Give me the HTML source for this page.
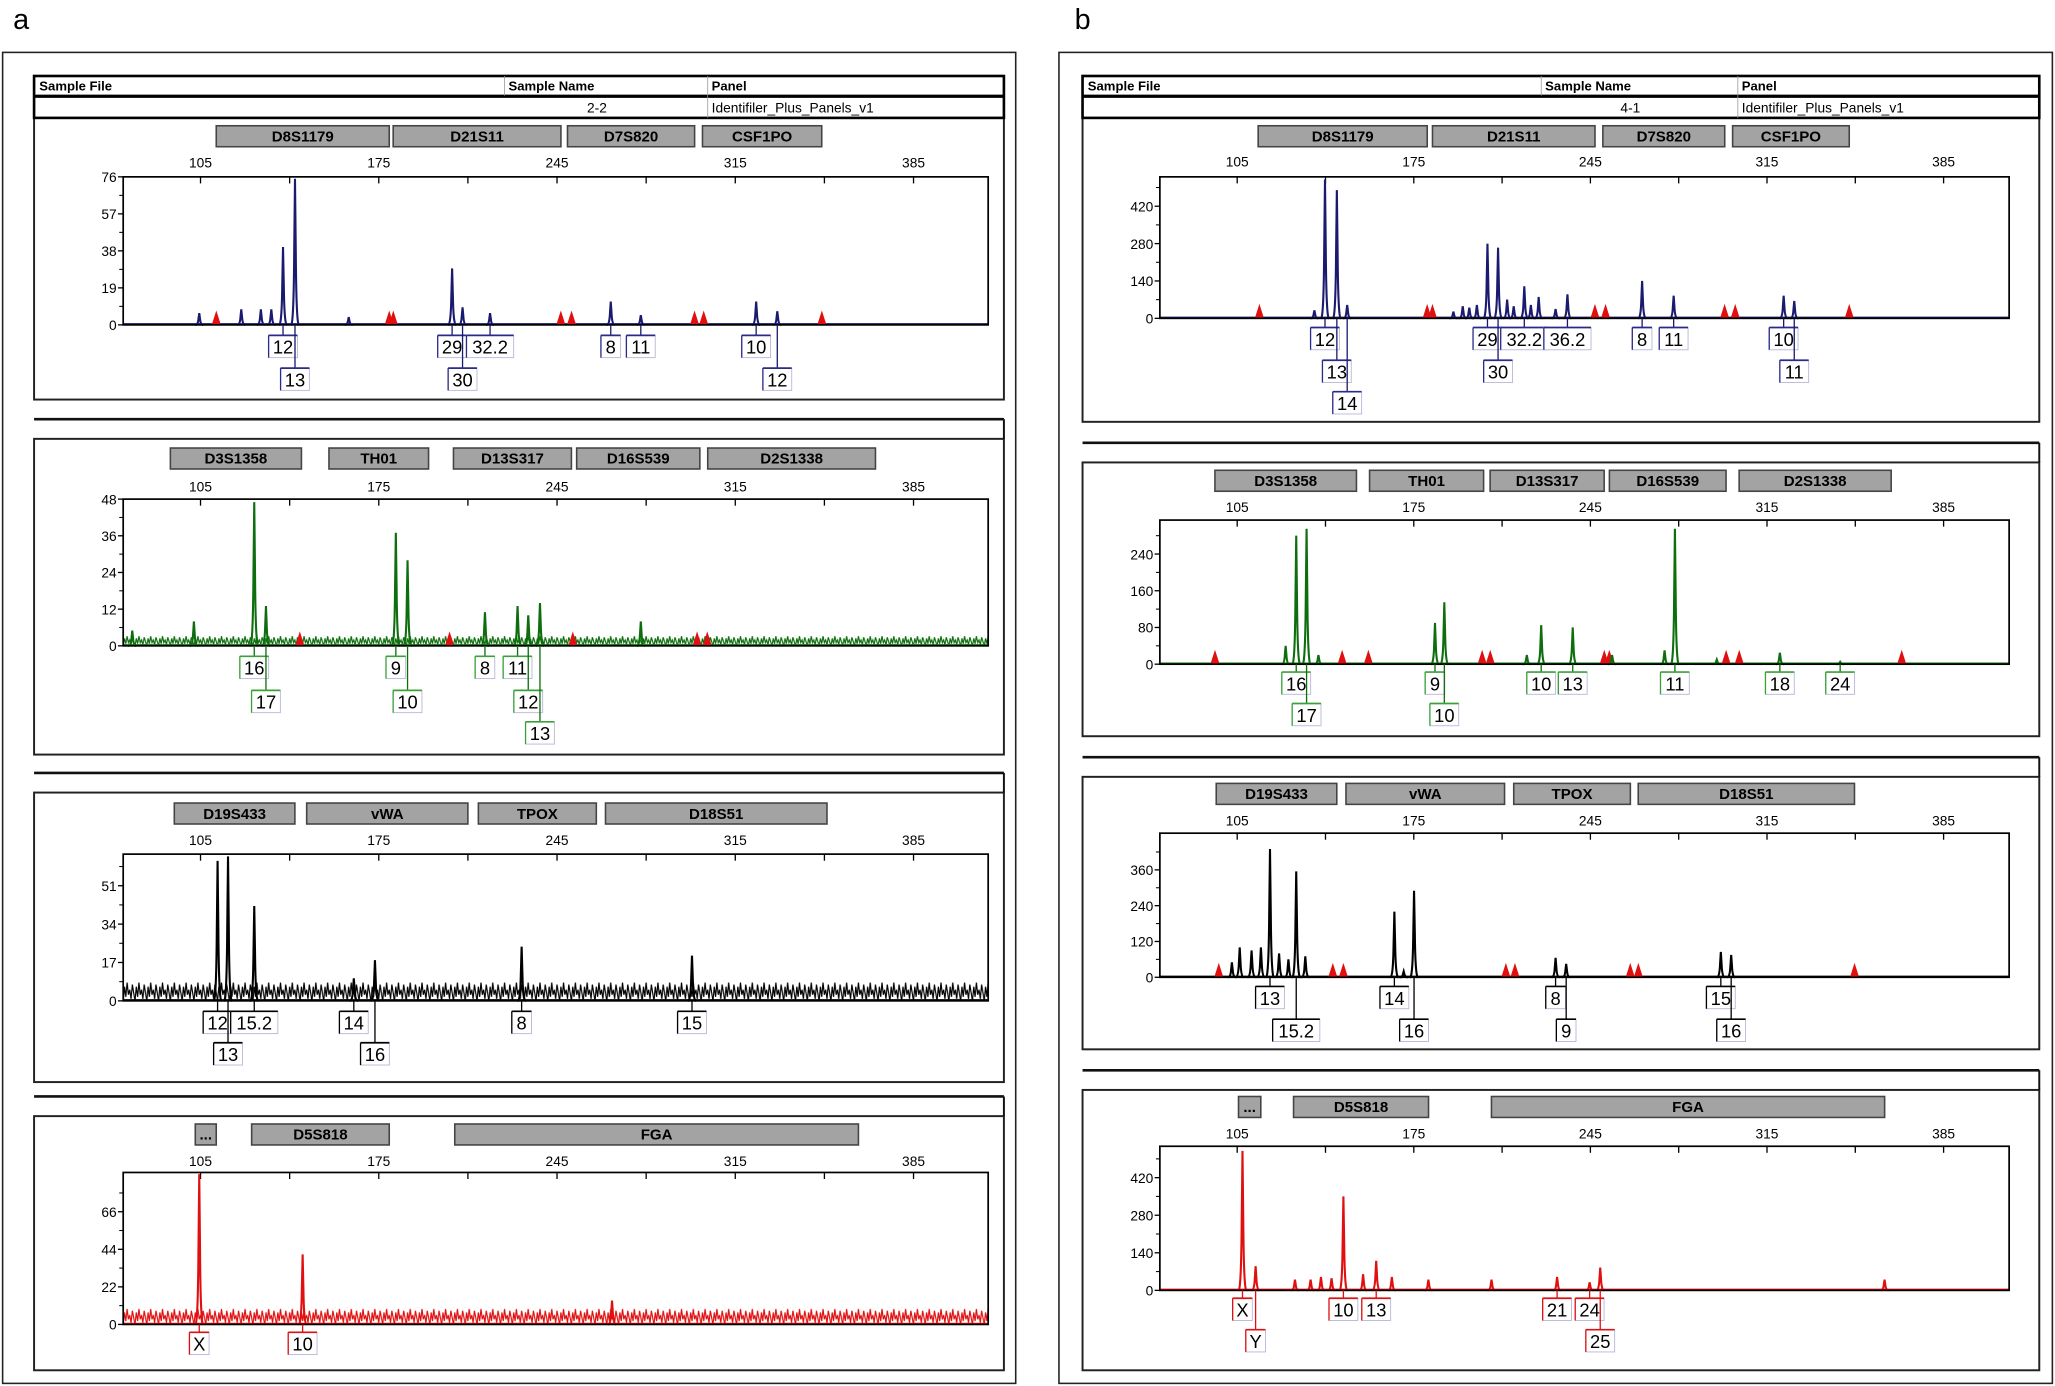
<!DOCTYPE html>
<html><head><meta charset="utf-8"><style>
html,body{margin:0;padding:0;background:#fff;}
svg{display:block;}
text{font-family:"Liberation Sans",sans-serif;}
</style></head><body>
<svg id="fig" width="2055" height="1386" viewBox="0 0 1568 1058" preserveAspectRatio="none" xmlns="http://www.w3.org/2000/svg">
<defs id="defs"></defs>
<text x="10" y="22" font-size="22">a</text>
<text x="820" y="22" font-size="22">b</text>
<rect x="2" y="40" width="773" height="1016" fill="none" stroke="#222" stroke-width="1.2"/>
<rect x="808" y="40" width="758" height="1016" fill="none" stroke="#222" stroke-width="1.2"/>
<g id="g"></g>
</svg>
<script>
// ---------- DATA (sizes in bp, heights in RFU) ----------
const aBlueSizes=[104.5,121,128.7,132.8,137.4,142.1,163.2,203.8,207.9,218.7,266.1,277.9,323.2,331.5];
const aBlueHeights=[6,8,8,8,40,75,4,29,9,6,12,5,12,7];
const aBlueTri=[111.2,179.1,180.7,246.5,250.7,299,302.6,349];
const aBlueLabText=["12","13","29","30","32.2","8","11","10","12"];
const aBlueLabSize=[137.4,142.1,203.8,207.9,218.7,266.1,277.9,323.2,331.5];
const aBlueLabRow=[0,1,0,1,0,0,0,0,1];
const aBlueTicks=[0,19,38,57,76];

const aGreenSizes=[78.2,102.4,126.1,130.7,181.7,186.3,216.7,229.5,233.7,238.3,277.9];
const aGreenHeights=[5,8,47,13,37,28,11,13,10,14,8];
const aGreenTri=[144,202.8,251.2,300,304];
const aGreenLabText=["16","17","9","10","8","11","12","13"];
const aGreenLabSize=[126.1,130.7,181.7,186.3,216.7,229.5,233.7,238.3];
const aGreenLabRow=[0,1,0,1,0,0,1,2];
const aGreenTicks=[0,12,24,36,48];

const aBlackSizes=[111.7,115.8,126.1,165.2,173.5,231.1,298];
const aBlackHeights=[62,64,42,10,18,24,20];
const aBlackTri=[];
const aBlackLabText=["12","13","15.2","14","16","8","15"];
const aBlackLabSize=[111.7,115.8,126.1,165.2,173.5,231.1,298];
const aBlackLabRow=[0,1,0,0,1,0,0];
const aBlackTicks=[0,17,34,51];

const aRedSizes=[104.5,145.1,266.6];
const aRedHeights=[88,41,14];
const aRedTri=[];
const aRedLabText=["X","10"];
const aRedLabSize=[104.5,145.1];
const aRedLabRow=[0,0];
const aRedTicks=[0,22,44,66];

const bBlueSizes=[135.6,139.8,144.5,148.6,190.7,194.4,197,200,204.2,208.4,212,214.6,218.8,221.4,224.5,231.2,235.9,265.5,278,321.6,325.8];
const bBlueHeights=[30,520,480,50,25,45,40,50,280,265,70,45,120,50,80,35,90,140,85,85,65];
const bBlueTri=[113.8,180.3,182.4,246.8,251,298.2,302.4,347.6];
const bBlueLabText=["12","13","14","29","30","32.2","36.2","8","11","10","11"];
const bBlueLabSize=[139.8,144.5,148.6,204.2,208.4,218.8,235.9,265.5,278,321.6,325.8];
const bBlueLabRow=[0,1,2,0,1,0,0,0,0,0,1];
const bBlueTicks=[0,140,280,420];

const bGreenSizes=[124.2,128.4,132.5,137.2,183.4,187.1,219.8,225.5,238,253.6,274.4,278.5,295.1,320.1,344];
const bGreenHeights=[40,280,295,20,90,135,20,85,80,20,30,295,10,25,5];
const bGreenTri=[96.2,146.6,157,202.1,205.3,250.5,252.5,298.8,304,368.4];
const bGreenLabText=["16","17","9","10","10","13","11","18","24"];
const bGreenLabSize=[128.4,132.5,183.4,187.1,225.5,238,278.5,320.1,344];
const bGreenLabRow=[0,1,0,1,0,0,0,0,0];
const bGreenTicks=[0,80,160,240];

const bBlackSizes=[102.9,106,110.7,114.4,118,121.6,125.3,128.4,132,167.3,171,175.1,231.2,235.4,296.7,300.8];
const bBlackHeights=[50,100,90,100,430,80,60,355,70,220,20,290,65,45,85,75];
const bBlackTri=[97.7,142.9,147.1,211.5,215.1,260.8,264,349.7];
const bBlackLabText=["13","15.2","14","16","8","9","15","16"];
const bBlackLabSize=[118,128.4,167.3,175.1,231.2,235.4,296.7,300.8];
const bBlackLabRow=[0,1,0,1,0,1,0,1];
const bBlackTicks=[0,120,240,360];

const bRedSizes=[107.1,112.3,127.9,134.1,138.2,142.4,147.1,154.9,160.1,166.3,180.8,205.8,231.8,244.7,248.9,361.6];
const bRedHeights=[520,90,40,40,50,45,350,60,110,50,40,40,50,30,85,40];
const bRedTri=[];
const bRedLabText=["X","Y","10","13","21","24","25"];
const bRedLabSize=[107.1,112.3,147.1,160.1,231.8,244.7,248.9];
const bRedLabRow=[0,1,0,0,0,0,1];
const bRedTicks=[0,140,280,420];

const sizeTickLabels=[105,175,245,315,385];

// ---------- LAYOUT ----------
const NS="http://www.w3.org/2000/svg";
const G=document.getElementById('g');
const DEFS=document.getElementById('defs');
function mk(tag,attrs,parent,txt){const e=document.createElementNS(NS,tag);for(const k in attrs)e.setAttribute(k,attrs[k]);if(txt!==undefined)e.textContent=txt;(parent||G).appendChild(e);return e;}

const panels=[
 {id:'a-blue',col:'#1a1a6e',lab:'#2a2a8a',px0:94,px1:754,x105:153,ppu:1.943,yT:135,yB:248,max:76,noise:1,
  S:aBlueSizes,H:aBlueHeights,T:aBlueTri,LT:aBlueLabText,LS:aBlueLabSize,LR:aBlueLabRow,TK:aBlueTicks,rows:[266,291],tickY:128,
  box:[26,58,766,305],bar:null,loci:[['D8S1179',165,297],['D21S11',300,428],['D7S820',433,530],['CSF1PO',536,627]],lociY:96},
 {id:'a-green',col:'#0e6e0e',lab:'#3aa03a',px0:94,px1:754,x105:153,ppu:1.943,yT:381,yB:493,max:48,noise:3.5,
  S:aGreenSizes,H:aGreenHeights,T:aGreenTri,LT:aGreenLabText,LS:aGreenLabSize,LR:aGreenLabRow,TK:aGreenTicks,rows:[511,537,561],tickY:375,
  box:[26,335,766,576],bar:[26,320,766,335],loci:[['D3S1358',130,230],['TH01',251,327],['D13S317',346,436],['D16S539',440,534],['D2S1338',540,668]],lociY:342},
 {id:'a-black',col:'#000',lab:'#000',px0:94,px1:754,x105:153,ppu:1.943,yT:652,yB:764,max:65,noise:9,
  S:aBlackSizes,H:aBlackHeights,T:aBlackTri,LT:aBlackLabText,LS:aBlackLabSize,LR:aBlackLabRow,TK:aBlackTicks,rows:[782,806],tickY:645,
  box:[26,605,766,826],bar:[26,590,766,605],loci:[['D19S433',133,225],['vWA',234,357],['TPOX',365,455],['D18S51',462,631]],lociY:613},
 {id:'a-red',col:'#e01010',lab:'#e01010',px0:94,px1:754,x105:153,ppu:1.943,yT:895,yB:1011,max:89,noise:10,
  S:aRedSizes,H:aRedHeights,T:aRedTri,LT:aRedLabText,LS:aRedLabSize,LR:aRedLabRow,TK:aRedTicks,rows:[1027],tickY:890,
  box:[26,852,766,1046],bar:[26,837,766,852],loci:[['...',149,165],['D5S818',192,297],['FGA',347,655]],lociY:858},
 {id:'b-blue',col:'#1a1a6e',lab:'#2a2a8a',px0:885,px1:1533,x105:944,ppu:1.925,yT:135,yB:243,max:530,noise:0.8,
  S:bBlueSizes,H:bBlueHeights,T:bBlueTri,LT:bBlueLabText,LS:bBlueLabSize,LR:bBlueLabRow,TK:bBlueTicks,rows:[260,285,309],tickY:127,
  box:[826,58,1556,322],bar:null,loci:[['D8S1179',960,1089],['D21S11',1093,1217],['D7S820',1223,1316],['CSF1PO',1322,1411]],lociY:96},
 {id:'b-green',col:'#0e6e0e',lab:'#3aa03a',px0:885,px1:1533,x105:944,ppu:1.925,yT:397,yB:507,max:314,noise:0.8,
  S:bGreenSizes,H:bGreenHeights,T:bGreenTri,LT:bGreenLabText,LS:bGreenLabSize,LR:bGreenLabRow,TK:bGreenTicks,rows:[523,547],tickY:391,
  box:[826,353,1556,562],bar:[826,338,1556,353],loci:[['D3S1358',927,1035],['TH01',1045,1132],['D13S317',1137,1224],['D16S539',1228,1317],['D2S1338',1327,1443]],lociY:359},
 {id:'b-black',col:'#000',lab:'#000',px0:885,px1:1533,x105:944,ppu:1.925,yT:636,yB:746,max:483,noise:0.8,
  S:bBlackSizes,H:bBlackHeights,T:bBlackTri,LT:bBlackLabText,LS:bBlackLabSize,LR:bBlackLabRow,TK:bBlackTicks,rows:[763,788],tickY:630,
  box:[826,593,1556,801],bar:[826,578,1556,593],loci:[['D19S433',928,1020],['vWA',1027,1148],['TPOX',1155,1244],['D18S51',1250,1415]],lociY:598},
 {id:'b-red',col:'#e01010',lab:'#e01010',px0:885,px1:1533,x105:944,ppu:1.925,yT:875,yB:985,max:537,noise:0.8,
  S:bRedSizes,H:bRedHeights,T:bRedTri,LT:bRedLabText,LS:bRedLabSize,LR:bRedLabRow,TK:bRedTicks,rows:[1001,1025],tickY:869,
  box:[826,832,1556,1046],bar:[826,817,1556,832],loci:[['...',945,962],['D5S818',987,1090],['FGA',1138,1438]],lociY:837}
];

function header(x0,x1,c1,c2,name){
  const g=mk('g',{});
  
  
  mk('rect',{x:x0,y:58,width:x1-x0,height:32,fill:'#fff',stroke:'#000','stroke-width':2},g);
  mk('line',{x1:x0,x2:x1,y1:73.5,y2:73.5,stroke:'#000','stroke-width':2.5},g);
  mk('line',{x1:c1,x2:c1,y1:58,y2:73,stroke:'#999','stroke-width':0.6},g);
  mk('line',{x1:c2,x2:c2,y1:58,y2:90,stroke:'#999','stroke-width':0.6},g);
  mk('text',{x:x0+4,y:69,'font-size':10,'font-weight':'bold'},g,'Sample File');
  mk('text',{x:c1+3,y:69,'font-size':10,'font-weight':'bold'},g,'Sample Name');
  mk('text',{x:c2+3,y:69,'font-size':10,'font-weight':'bold'},g,'Panel');
  mk('text',{x:c1+(c2-c1)/2-7,y:86,'font-size':10.5,'text-anchor':'middle'},g,name);
  mk('text',{x:c2+3,y:86,'font-size':10.5},g,'Identifiler_Plus_Panels_v1');
}

panels.forEach((p,pi)=>{
  const g=mk('g',{});
  
  
  const b=p.box;
  const bx=mk('rect',{x:b[0],y:b[1],width:b[2]-b[0],height:b[3]-b[1],fill:'none',stroke:'#222','stroke-width':1.5},g);
  
  
  if(p.bar){
    mk('line',{x1:p.bar[0],x2:p.bar[2],y1:p.bar[1],y2:p.bar[1],stroke:'#111','stroke-width':2},g);
    mk('line',{x1:p.bar[2],x2:p.bar[2],y1:p.bar[1],y2:p.bar[3],stroke:'#111','stroke-width':1.5},g);
  }
  p.loci.forEach(l=>{
    const r=mk('rect',{x:l[1],y:p.lociY,width:l[2]-l[1],height:16,fill:'#a3a3a3',stroke:'#444','stroke-width':1.2},g);
    
    
    mk('text',{x:(l[1]+l[2])/2,y:p.lociY+12,'font-size':11.5,'font-weight':'bold','text-anchor':'middle'},g,l[0]);
  });
  const X=s=>p.x105+(s-105)*p.ppu;
  const Y=v=>p.yB-(v/p.max)*(p.yB-p.yT);
  for(let s=70;s<=420;s+=35){const x=X(s);if(x<p.px0||x>p.px1)continue;
    mk('line',{x1:x,x2:x,y1:p.yT,y2:p.yT+5,stroke:'#000','stroke-width':1},g);}
  sizeTickLabels.forEach(s=>{
    const t=mk('text',{x:X(s),y:p.tickY,'font-size':10.5,'text-anchor':'middle'},g,String(s));
    
    
  });
  const step=p.TK[1]-p.TK[0];
  p.TK.forEach(v=>{
    mk('line',{x1:p.px0-4,x2:p.px0,y1:Y(v),y2:Y(v),stroke:'#000','stroke-width':1},g);
    const t=mk('text',{x:p.px0-5,y:Y(v)+4,'font-size':10.5,'text-anchor':'end'},g,String(v));
    
    
    const m=v+step/2;if(m<=p.max)mk('line',{x1:p.px0-3,x2:p.px0,y1:Y(m),y2:Y(m),stroke:'#000','stroke-width':0.8},g);
  });
  // noise band as a zigzag texture pattern
  if(p.noise>1.5){
    const hh=p.yB-Y(p.noise);
    const pat=mk('pattern',{id:'nz'+pi,x:p.px0,y:Y(p.noise),width:9,height:hh,patternUnits:'userSpaceOnUse'},DEFS);
    mk('polyline',{points:`0,${hh} 1,${hh*0.3} 2,${hh*0.8} 3,${hh*0.1} 4,${hh*0.7} 5,${hh*0.45} 6,${hh*0.9} 7,${hh*0.2} 8,${hh*0.6} 9,${hh}`,fill:'none',stroke:p.col,'stroke-width':0.9},pat);
    const nb=mk('rect',{x:p.px0,y:Y(p.noise),width:p.px1-p.px0,height:hh,fill:`url(#nz${pi})`},g);
    
    
  }
  mk('line',{x1:p.px0,x2:p.px1,y1:p.yB-0.5,y2:p.yB-0.5,stroke:p.col,'stroke-width':1.6},g);
  p.T.forEach(s=>{
    const x=X(s);
    const tr=mk('polygon',{points:`${x-3.5},${p.yB} ${x},${p.yB-11} ${x+3.5},${p.yB}`,fill:'#e01010'},g);
    
    
  });
  p.S.forEach((s,i)=>{
    const x=X(s),y=Y(Math.min(p.H[i],p.max));
    const pk=mk('path',{d:`M${x-3},${p.yB} Q${x-1},${p.yB} ${x-0.6},${(y+p.yB)/2} L${x},${y} L${x+0.6},${(y+p.yB)/2} Q${x+1},${p.yB} ${x+3},${p.yB}`,fill:'none',stroke:p.col,'stroke-width':1.6},g);
    
    
  });
  mk('rect',{x:p.px0,y:p.yT,width:p.px1-p.px0,height:p.yB-p.yT,fill:'none',stroke:'#000','stroke-width':1.3},g);
  p.LT.forEach((t,i)=>{
    const x=X(p.LS[i]);const cy=p.rows[p.LR[i]];
    const w=t.length*7+8,h=17,top=cy-10;
    mk('line',{x1:x,x2:x,y1:p.yB,y2:top,stroke:p.col,'stroke-width':1},g);
    mk('rect',{x:x-w/2,y:top,width:w,height:h,fill:'#fff',stroke:'#b8b8d8','stroke-width':0.7},g);
    mk('line',{x1:x-w/2,x2:x+w/2,y1:top,y2:top,stroke:p.lab,'stroke-width':1.3},g);
    mk('line',{x1:x-w/2,x2:x-w/2,y1:top,y2:top+h,stroke:p.lab,'stroke-width':1},g);
    const tx=mk('text',{x:x,y:cy+4,'font-size':14,'text-anchor':'middle','font-family':'Liberation Serif, serif'},g,t);
    
    
  });
});
header(26,766,385,540,'2-2');
header(826,1556,1176,1326,'4-1');
</script>
</body></html>
